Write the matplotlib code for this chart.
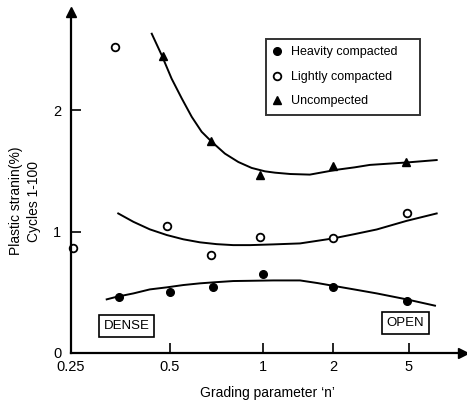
import matplotlib
matplotlib.use("Agg")
import matplotlib.pyplot as plt
import numpy as np

plt.rcParams['font.family'] = ['Liberation Sans', 'DejaVu Sans']

# measured points
n_heavy = [0.35, 0.5, 0.69, 1.0, 2.0, 4.9]
y_heavy = [0.46, 0.505, 0.546, 0.648, 0.541, 0.428]

n_light = [0.253, 0.34, 0.49, 0.68, 0.98, 2.0, 4.86]
y_light = [0.864, 2.52, 1.048, 0.807, 0.952, 0.949, 1.15]

n_uncomp = [0.477, 0.68, 0.98, 2.0, 4.84]
y_uncomp = [2.45, 1.747, 1.465, 1.539, 1.575]

# fitted curves
n_fit_uncomp = [0.44, 0.472, 0.506, 0.546, 0.588, 0.633, 0.682, 0.753, 0.832, 0.919,
                1.02, 1.126, 1.31, 1.59, 2.09, 2.6, 3.12, 4.86, 6.98]
y_fit_uncomp = [2.631, 2.453, 2.261, 2.097, 1.946, 1.823, 1.741, 1.643, 1.574, 1.525,
                1.497, 1.486, 1.475, 1.47, 1.51, 1.53, 1.55, 1.57, 1.59]

n_fit_light = [0.348, 0.387, 0.434, 0.489, 0.552, 0.625, 0.708, 0.801, 0.908, 1.107,
               1.443, 2.0, 2.6, 3.39, 4.86, 6.98]
y_fit_light = [1.150, 1.081, 1.019, 0.972, 0.937, 0.912, 0.897, 0.889, 0.889, 0.895,
               0.903, 0.944, 0.98, 1.018, 1.089, 1.15]

n_fit_heavy = [0.321, 0.344, 0.387, 0.434, 0.489, 0.552, 0.625, 0.708, 0.801, 0.908,
               1.107, 1.443, 1.72, 2.0, 2.6, 3.39, 4.86, 6.84]
y_fit_heavy = [0.442, 0.463, 0.491, 0.524, 0.541, 0.560, 0.574, 0.584, 0.593, 0.595,
               0.598, 0.598, 0.576, 0.554, 0.523, 0.491, 0.442, 0.39]

xticks = [0.25, 0.5, 1, 2, 5]
xticklabels = ['0.25', '0.5', '1', '2', '5']
yticks = [0, 1, 2]

# the grading axis of the original is not a clean log axis -> piecewise scale
anchor_n = np.log2([0.25, 0.5, 1, 2, 5, 10])
anchor_p = np.array([71, 170, 263, 333, 409, 466.5])


def fwd(n):
    n = np.clip(np.asarray(n, dtype=float), 1e-6, None)
    return np.interp(np.log2(n), anchor_n, anchor_p)


def inv(p):
    return 2 ** np.interp(p, anchor_p, anchor_n)


fig = plt.figure(figsize=(4.67, 4.04), dpi=100)
ax = fig.add_axes([71 / 467, 51 / 404, 392 / 467, 341 / 404])
ax.set_xscale('function', functions=(fwd, inv))

ax.plot(n_fit_uncomp, y_fit_uncomp, color='k', lw=1.4)
ax.plot(n_fit_light, y_fit_light, color='k', lw=1.4)
ax.plot(n_fit_heavy, y_fit_heavy, color='k', lw=1.4)

ax.plot(n_heavy, y_heavy, 'o', color='k', ms=5.5, label='Heavity compacted', clip_on=False)
ax.plot(n_light, y_light, 'o', mfc='white', mec='k', mew=1.3, ms=5.5, label='Lightly compacted', clip_on=False)
ax.plot(n_uncomp, y_uncomp, '^', color='k', ms=5.5, label='Uncompected', clip_on=False)

ax.set_xlim(0.25, inv(463))
ax.set_ylim(0, 2.81)
ax.set_xticks(xticks)
ax.set_xticklabels(xticklabels)
ax.xaxis.set_minor_locator(plt.NullLocator())
ax.set_yticks(yticks)
ax.tick_params(direction='in', length=7, width=1.2, labelsize=10.5, colors='k')
ax.tick_params(axis='y', pad=7)
ax.tick_params(axis='x', pad=5)

for s in ['top', 'right']:
    ax.spines[s].set_visible(False)
for s in ['left', 'bottom']:
    ax.spines[s].set_linewidth(1.6)

# arrow heads on the axes
ax.plot(0, 1, marker='^', color='k', ms=7, transform=ax.transAxes, clip_on=False)
ax.plot(1, 0, marker='>', color='k', ms=7, transform=ax.transAxes, clip_on=False)

ax.set_xlabel('Grading parameter \u2018n\u2019', fontsize=10, labelpad=9)
fig.text(25 / 467, 1 - 201 / 404, 'Plastic stranin(%)\nCycles 1-100', rotation=90,
         ha='center', va='center', ma='center', fontsize=10, linespacing=1.4)

leg = ax.legend(loc='upper left', bbox_to_anchor=(0.497, 0.695, 0.393, 0.226), mode='expand',
                frameon=True, fancybox=False, edgecolor='k', fontsize=9,
                handlelength=0.6, handletextpad=0.8, labelspacing=1.0, borderpad=0.6,
                borderaxespad=0)
leg.get_frame().set_linewidth(1.4)

box = dict(boxstyle='square,pad=0.35', fc='white', ec='k', lw=1.2)
ax.text(0.142, 0.079, 'DENSE', transform=ax.transAxes, ha='center', va='center', fontsize=9.5, bbox=box)
ax.text(0.853, 0.088, 'OPEN', transform=ax.transAxes, ha='center', va='center', fontsize=9.5, bbox=box)

fig.savefig('out.png', dpi=100)
